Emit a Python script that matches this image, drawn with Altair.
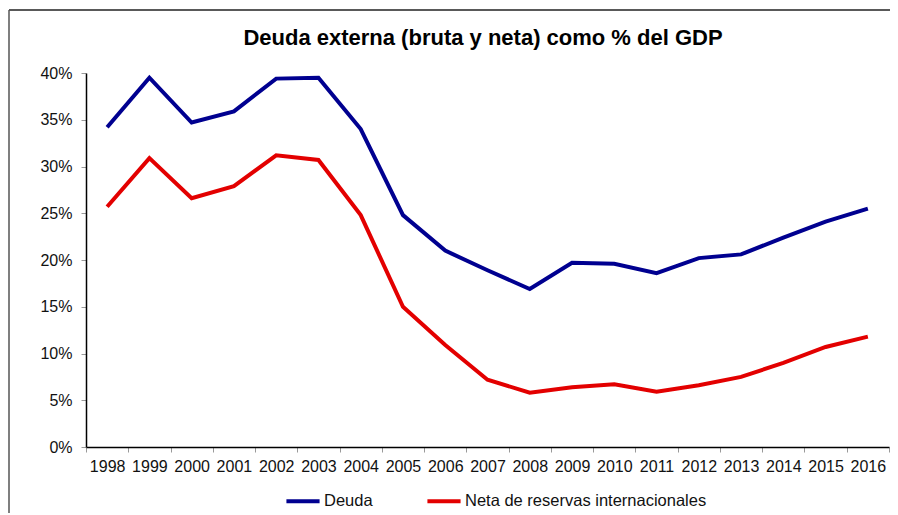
import altair as alt
import pandas as pd

years = [str(y) for y in range(1998, 2017)]
deuda = [34.2, 39.5, 34.7, 35.9, 39.4, 39.5, 34.0, 24.8, 21.0, 18.9, 16.9,
         19.7, 19.6, 18.6, 20.2, 20.6, 22.4, 24.1, 25.5]
neta = [25.7, 30.9, 26.6, 27.9, 31.2, 30.7, 24.8, 15.0, 10.9, 7.2, 5.8,
        6.4, 6.7, 5.9, 6.6, 7.5, 9.0, 10.7, 11.8]
series_names = ["Deuda", "Neta de reservas internacionales"]
series_colors = ["#000090", "#E30000"]
title_text = "Deuda externa (bruta y neta) como % del GDP"

rows = []
for name, vals in zip(series_names, [deuda, neta]):
    for y, v in zip(years, vals):
        rows.append({"Año": y, "Valor": v / 100.0, "Serie": name})
df = pd.DataFrame(rows)

FONT = "Liberation Sans"

lines = alt.Chart(df).mark_line(strokeWidth=4, strokeJoin="miter").encode(
    x=alt.X("Año:O", bandPosition=0.5,
            scale=alt.Scale(type="band", paddingInner=0, paddingOuter=0),
            axis=alt.Axis(title=None, labelAngle=0, tickBand="extent",
                          domainColor="#000000", domainWidth=1.5,
                          tickColor="#999999", tickSize=5, labelPadding=6,
                          labelFontSize=16, labelColor="#111111", labelFont=FONT)),
    y=alt.Y("Valor:Q",
            scale=alt.Scale(domain=[0, 0.4]),
            axis=alt.Axis(title=None, format=".0%", values=[0, 0.05, 0.1, 0.15, 0.2, 0.25, 0.3, 0.35, 0.4],
                          grid=False, domainColor="#000000", domainWidth=1.5,
                          tickColor="#999999", tickSize=5, labelPadding=9,
                          labelFontSize=16, labelColor="#111111", labelFont=FONT)),
    color=alt.Color("Serie:N",
                    scale=alt.Scale(domain=series_names, range=series_colors),
                    legend=alt.Legend(title=None, orient="none", legendX=198, legendY=409,
                                      direction="horizontal", symbolType="stroke",
                                      symbolSize=1100, symbolStrokeWidth=4,
                                      labelFontSize=16.5, labelFont=FONT, labelColor="#111111",
                                      labelLimit=400, padding=0,
                                      labelOffset=2, columnPadding=46)),
)

one_df = pd.DataFrame({"t": [title_text]})
title_mark = alt.Chart(one_df).mark_text(
    font=FONT, fontSize=22, fontWeight="bold", color="#000000",
    align="center", baseline="middle").encode(
    text="t:N", x=alt.value(397), y=alt.value(-35))

top_line = alt.Chart(one_df).mark_rule(color="#222222", strokeWidth=1.5).encode(
    x=alt.value(-77), x2=alt.value(900), y=alt.value(-63))
left_line = alt.Chart(one_df).mark_rule(color="#555555", strokeWidth=1.5).encode(
    x=alt.value(-77), y=alt.value(-63), y2=alt.value(500))

chart = alt.layer(lines, title_mark, top_line, left_line).properties(
    width=803, height=374,
    autosize=alt.AutoSizeParams(type="none"),
    padding={"left": 78, "top": 65, "right": 1, "bottom": 66},
).configure_view(stroke=None)

chart.save("out.html", embed_options={"renderer": "svg", "actions": False})
